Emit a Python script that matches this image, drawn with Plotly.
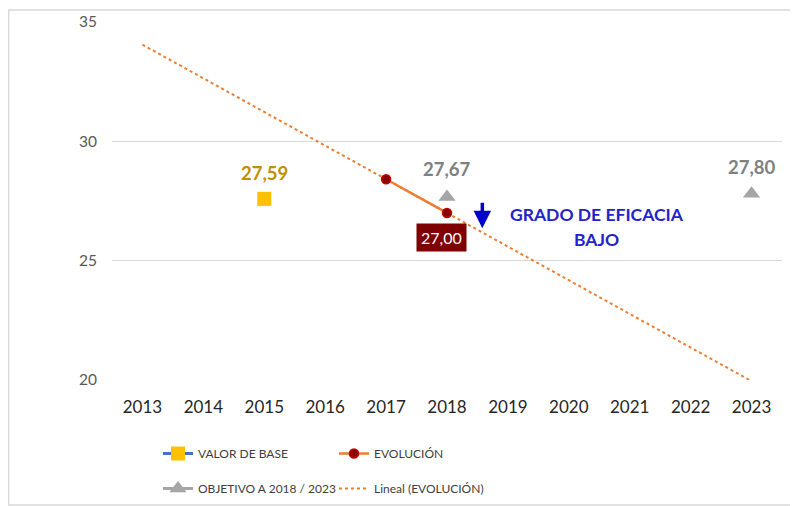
import numpy as np
import plotly.graph_objects as go

years = list(range(2013, 2024))
base_years = [2015]
base_values = [27.59]
evol_years = [2017, 2018]
evol_values = [28.41, 27.00]
obj_years = [2018, 2019, 2020, 2021, 2022, 2023]
obj_values = [27.67, None, None, None, None, 27.80]

# Excel-style linear trendline of EVOLUCIÓN over the whole axis
slope, intercept = np.polyfit(evol_years, evol_values, 1)
trend_y = [slope * y + intercept for y in years]

FONT = "Lato"
W, H = 790, 498
L, T = 103.5, 14
PW, PH = 671, 358

fig = go.Figure()

fig.add_trace(go.Scatter(x=years, y=trend_y, mode="lines", name="Lineal (EVOLUCIÓN)",
                         line=dict(color="#ED7D31", width=2, dash="dot"),
                         legend="legend2", legendrank=2, hoverinfo="skip"))
fig.add_trace(go.Scatter(x=base_years, y=base_values, mode="lines+markers", name="VALOR DE BASE",
                         line=dict(color="#4472C4", width=3),
                         marker=dict(symbol="square", color="#FFC000", size=14),
                         legend="legend", legendrank=1))
fig.add_trace(go.Scatter(x=evol_years, y=evol_values, mode="lines+markers", name="EVOLUCIÓN",
                         line=dict(color="#ED7D31", width=2.5),
                         marker=dict(symbol="circle", color="#8B0000", size=9,
                                     line=dict(color="#C00000", width=1.5)),
                         legend="legend", legendrank=2))
fig.add_trace(go.Scatter(x=obj_years, y=obj_values, mode="lines+markers", name="OBJETIVO A 2018 / 2023",
                         line=dict(color="#A5A5A5", width=3), connectgaps=False,
                         marker=dict(symbol="triangle-up", color="#A5A5A5", size=15),
                         legend="legend2", legendrank=1))

annotations = [
    dict(x=2015, y=base_values[0], text="<b>27,59</b>", showarrow=False, yshift=26,
         font=dict(size=18.5, color="#BF9000", family=FONT)),
    dict(x=2018, y=obj_values[0], text="<b>27,67</b>", showarrow=False, yshift=28,
         font=dict(size=18.5, color="#808080", family=FONT)),
    dict(x=2023, y=obj_values[-1], text="<b>27,80</b>", showarrow=False, yshift=27,
         font=dict(size=18.5, color="#808080", family=FONT)),
    dict(x=2018, y=evol_values[1], text="27,00", showarrow=False, yshift=-25, xshift=-6,
         bgcolor="#7F0000", borderpad=4,
         font=dict(size=16, color="white", family=FONT)),
    dict(x=2018.58, y=26.36, text="", showarrow=True, ax=0, ay=-27,
         arrowhead=2, arrowsize=1, arrowwidth=3.5, arrowcolor="#0000CC"),
    dict(x=2020.46, y=26.94, text="<b>GRADO DE EFICACIA</b>", showarrow=False,
         font=dict(size=17.5, color="#2323C8", family=FONT)),
    dict(x=2020.46, y=25.89, text="<b>BAJO</b>", showarrow=False,
         font=dict(size=17.5, color="#2323C8", family=FONT)),
]

leg_common = dict(orientation="h", xref="container", yref="container",
                  x=150 / W, xanchor="left", yanchor="top",
                  entrywidth=131, entrywidthmode="pixels",
                  font=dict(size=12, color="#404040", family=FONT), itemwidth=30,
                  bgcolor="rgba(0,0,0,0)")

fig.update_layout(
    width=W, height=H,
    margin=dict(l=L, r=W - L - PW, t=T, b=H - T - PH, autoexpand=False),
    paper_bgcolor="white", plot_bgcolor="white",
    font=dict(family=FONT),
    xaxis=dict(range=[2012.5, 2023.5], tickmode="array", tickvals=years,
               ticktext=[str(y) for y in years], showgrid=False, zeroline=False,
               showline=False, ticks="", tickfont=dict(size=17, color="#262626"),
               ticklabelstandoff=15, automargin=False),
    yaxis=dict(range=[20, 35], tickvals=[20, 25, 30, 35], showgrid=True,
               gridcolor="#D9D9D9", gridwidth=1, zeroline=False, showline=False,
               tickfont=dict(size=15.5, color="#595959"), ticklabelstandoff=14,
               automargin=False),
    annotations=annotations,
    legend=dict(leg_common, y=1 - 431 / H),
    legend2=dict(leg_common, y=1 - 466 / H),
    shapes=[dict(type="rect", xref="paper", yref="paper",
                 x0=-L / PW, x1=(787 - L) / PW,
                 y0=(T + PH - 497) / PH, y1=(T + PH - 2) / PH,
                 line=dict(color="#D9D9D9", width=1.5), layer="below")],
    showlegend=True,
)

fig.write_html("out.html")
